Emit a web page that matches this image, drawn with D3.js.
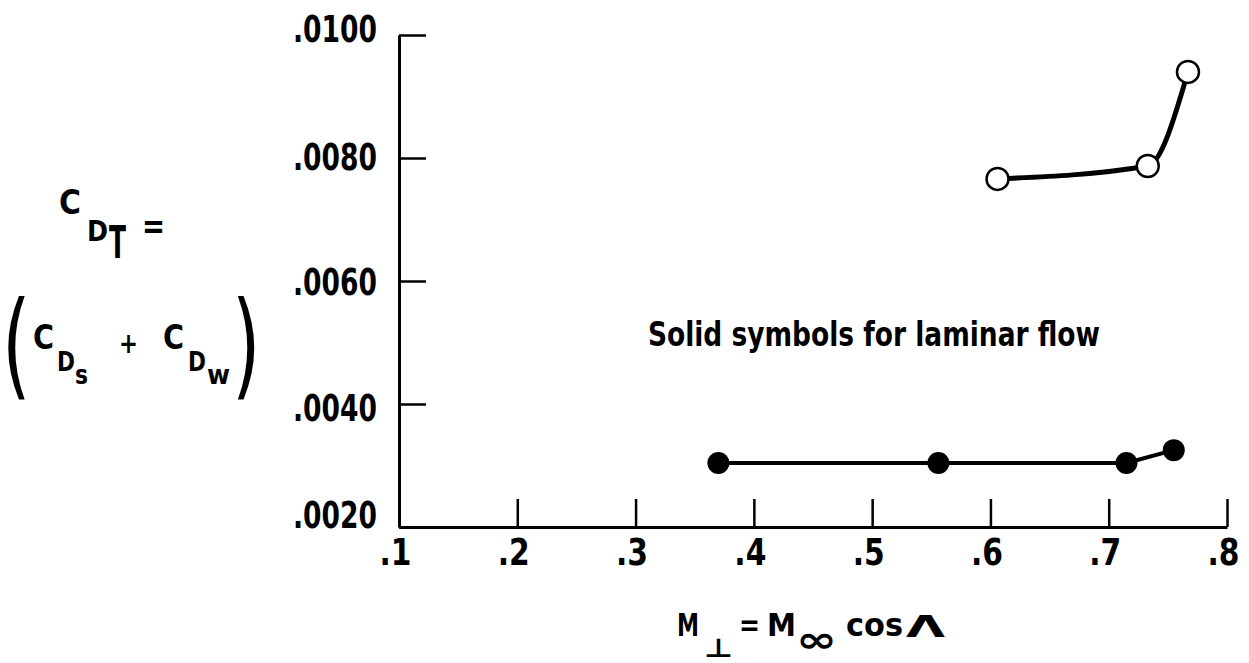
<!doctype html>
<html>
<head>
<meta charset="utf-8"/>
<title>Drag coefficient vs normal Mach number</title>
<script src="https://d3js.org/d3.v7.min.js"></script>
<style>
  body { margin: 0; background: #fff; }
  svg text { font-family: "DejaVu Sans Condensed", "DejaVu Sans", sans-serif; font-weight: bold; fill: #000; }
</style>
</head>
<body>
<div id="chart"></div>
<script>
// data
var laminarM  = [0.370, 0.556, 0.715, 0.755];
var laminarCD = [0.00304, 0.00304, 0.00304, 0.00325];
var turbM  = [0.606, 0.733, 0.767];
var turbCD = [0.00766, 0.00787, 0.00940];

var xTicks = [0.1, 0.2, 0.3, 0.4, 0.5, 0.6, 0.7, 0.8];
var xTickLabels = [".1", ".2", ".3", ".4", ".5", ".6", ".7", ".8"];
var yTicks = [0.002, 0.004, 0.006, 0.008, 0.010];
var yTickLabels = [".0020", ".0040", ".0060", ".0080", ".0100"];

var svg = d3.select("#chart").append("svg")
    .attr("width", 1249)
    .attr("height", 663);

var x = d3.scaleLinear().domain([0.1, 0.8]).range([399, 1227]);
var y = d3.scaleLinear().domain([0.002, 0.010]).range([527, 35]);

// axes
var xAxis = d3.axisBottom(x)
    .tickValues(xTicks)
    .tickFormat(function(d, i) { return xTickLabels[i]; })
    .tickSizeInner(-28).tickSizeOuter(0).tickPadding(10);
var yAxis = d3.axisLeft(y)
    .tickValues(yTicks)
    .tickFormat(function(d, i) { return yTickLabels[i]; })
    .tickSizeInner(-27).tickSizeOuter(0).tickPadding(22);

var gx = svg.append("g").attr("transform", "translate(0," + y(0.002) + ")").call(xAxis);
var gy = svg.append("g").attr("transform", "translate(" + x(0.1) + ",0)").call(yAxis);

[gx, gy].forEach(function(g) {
  g.select(".domain").attr("stroke", "#000").attr("stroke-width", 3);
  g.selectAll(".tick line").attr("stroke", "#000").attr("stroke-width", 2.5);
  g.selectAll(".tick text")
    .attr("font-family", null)
    .attr("font-size", null)
    .style("font-size", "38px");
});
gx.selectAll(".tick text").attr("dy", "0.74em").attr("dx", "-4")
  .attr("textLength", 32).attr("lengthAdjust", "spacingAndGlyphs");
// hand lettering sits a bit off the ticks at both ends
var yNudge = [-13, 3, 0, -2, -7];
gy.selectAll(".tick text")
  .attr("y", function(d, i) { return yNudge[i]; })
  .attr("dy", "0.36em")
  .attr("textLength", 84).attr("lengthAdjust", "spacingAndGlyphs");

// curves
var lamData = laminarM.map(function(m, i) { return [m, laminarCD[i]]; });
var turbData = turbM.map(function(m, i) { return [m, turbCD[i]]; });

var lineStraight = d3.line().x(function(d) { return x(d[0]); }).y(function(d) { return y(d[1]); });
var lineCurve = d3.line().x(function(d) { return x(d[0]); }).y(function(d) { return y(d[1]); })
    .curve(d3.curveMonotoneX);

svg.append("path").datum(lamData).attr("d", lineStraight)
  .attr("fill", "none").attr("stroke", "#000").attr("stroke-width", 4);
svg.append("path").datum(turbData).attr("d", lineCurve)
  .attr("fill", "none").attr("stroke", "#000").attr("stroke-width", 5);

svg.selectAll("circle.lam").data(lamData).enter().append("circle")
  .attr("class", "lam")
  .attr("cx", function(d) { return x(d[0]); })
  .attr("cy", function(d) { return y(d[1]); })
  .attr("r", 11).attr("fill", "#000");

svg.selectAll("circle.turb").data(turbData).enter().append("circle")
  .attr("class", "turb")
  .attr("cx", function(d) { return x(d[0]); })
  .attr("cy", function(d) { return y(d[1]); })
  .attr("r", 11).attr("fill", "#fff").attr("stroke", "#000").attr("stroke-width", 2.5);

// small helper for the lettered labels
function t(xp, yp, s, size, len) {
  var e = svg.append("text").attr("x", xp).attr("y", yp).style("font-size", size + "px").text(s);
  if (len) e.attr("textLength", len).attr("lengthAdjust", "spacingAndGlyphs");
  return e;
}

// note
t(648, 346, "Solid symbols for laminar flow", 34, 452);

// y label
t(59, 214, "C", 34, 22);
t(87, 241, "D", 29, 21);
t(109, 258, "T", 44, 17);
t(142, 238, "=", 36, 23);

t(0, 384, "(", 116).style("font-weight", "normal").attr("transform", "translate(2,0) scale(0.7,1)");
t(33, 349, "C", 34, 21);
t(57, 371, "D", 26, 18);
t(75, 384, "s", 26, 13);
t(119, 353, "+", 28, 19);
t(163, 349, "C", 34, 21);
t(188, 371, "D", 26, 18);
t(207, 384, "w", 26, 23);
t(0, 384, ")", 116).style("font-weight", "normal").attr("transform", "translate(232,0) scale(0.7,1)");

// x label
t(677, 636, "M", 32, 22);
t(704, 657, "\u22A5", 26, 29);
t(739, 635, "=", 30, 21);
t(767, 636, "M", 32, 29);
t(796, 652, "\u221E", 36, 41);
t(846, 636, "cos", 32, 57);
t(906, 637, "\u039B", 30, 39);
</script>
</body>
</html>
